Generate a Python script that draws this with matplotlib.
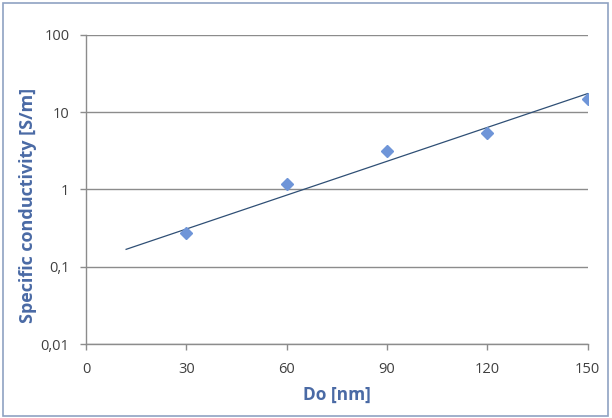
import numpy as np
import matplotlib.pyplot as plt
from matplotlib.patches import Rectangle
from matplotlib.ticker import FixedLocator, FixedFormatter

# data
diameter = [30, 60, 90, 120, 150]
conductivity = [0.27, 1.16, 3.13, 5.4, 14.6]

# exponential trendline y = a * exp(b * x), as drawn in the chart
trend_a = 0.112
trend_b = 0.0336
trend_range = [12, 150]

x_ticks = [0, 30, 60, 90, 120, 150]
y_ticks = [0.01, 0.1, 1, 10, 100]
y_labels = ["0,01", "0,1", "1", "10", "100"]

plt.rcParams['font.family'] = ['Open Sans', 'DejaVu Sans']

fig = plt.figure(figsize=(6.12, 4.18), dpi=100)
ax = fig.add_axes([0.1405, 0.177, 0.8195, 0.74])

# outer chart border
fig.patches.append(Rectangle((0.005, 0.005), 0.988, 0.988, transform=fig.transFigure,
                             fill=False, edgecolor='#8fa2c2', linewidth=1.2))

tx = np.linspace(trend_range[0], trend_range[1], 100)
ax.plot(tx, trend_a * np.exp(trend_b * tx), color='#2f4f75', linewidth=0.9, zorder=3)
ax.plot(diameter, conductivity, linestyle='none', marker='D', markersize=6,
        color='#6f95d8', markeredgecolor='#6f95d8', zorder=4)

ax.set_yscale('log')
ax.set_xlim(0, 150)
ax.set_ylim(0.01, 100)
ax.xaxis.set_major_locator(FixedLocator(x_ticks))
ax.yaxis.set_major_locator(FixedLocator(y_ticks))
ax.yaxis.set_major_formatter(FixedFormatter(y_labels))
ax.yaxis.set_minor_locator(FixedLocator([]))

ax.grid(True, axis='y', color='#8c8c8c', linewidth=1.0)
ax.set_axisbelow(True)
for s in ['top', 'right']:
    ax.spines[s].set_visible(False)
for s in ['left', 'bottom']:
    ax.spines[s].set_color('#8c8c8c')
    ax.spines[s].set_linewidth(1.0)

ax.tick_params(axis='both', direction='out', length=4, width=1.0, color='#8c8c8c',
               labelsize=10.5, labelcolor='#404040')
ax.tick_params(axis='y', pad=8)
ax.tick_params(axis='x', pad=9)

ax.set_xlabel("Do [nm]", fontsize=12.5, fontweight='bold', color='#4a6aa5')
ax.xaxis.set_label_coords(0.5, -0.135)
ax.set_ylabel("Specific conductivity [S/m]", fontsize=13, fontweight='bold',
              color='#4a6aa5')
ax.yaxis.set_label_coords(-0.098, 0.449)

fig.savefig("out.png", dpi=100)
